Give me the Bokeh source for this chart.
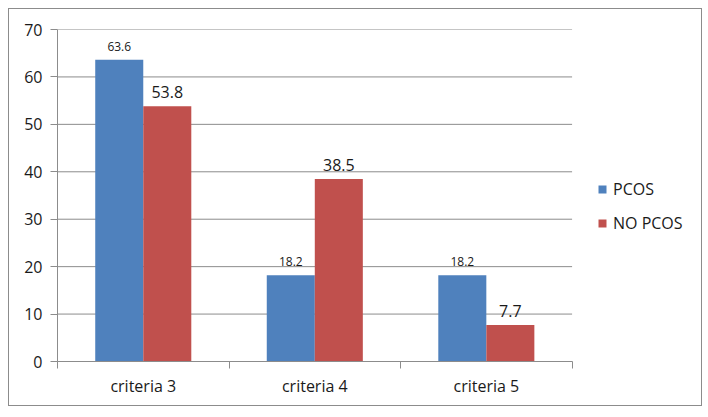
from bokeh.plotting import figure
from bokeh.models import ColumnDataSource, FixedTicker, LabelSet, Legend, LegendItem, Range1d
from bokeh.transform import dodge
from bokeh.core.properties import value
from bokeh.embed import file_html
from bokeh.resources import INLINE

categories = ["criteria 3", "criteria 4", "criteria 5"]
pcos = [63.6, 18.2, 18.2]
no_pcos = [53.8, 38.5, 7.7]
series_names = ["PCOS", "NO PCOS"]
y_ticks = [0, 10, 20, 30, 40, 50, 60, 70]

BLUE = "#4F81BD"
RED = "#C0504D"
GRID = "#8c8c8c"
TXT = "#1a1a1a"
FONT = "Open Sans"

n = len(categories)
# layout: the category area is 513px wide inside a 644px-wide frame (room for the legend)
CAT_W, FRAME_W = 513, 644
x_end = n * FRAME_W / CAT_W

xs = [i + 0.5 for i in range(n)]
src = ColumnDataSource(dict(
    x=xs, pcos=pcos, no_pcos=no_pcos,
    pcos_lbl=[f"{v:.1f}" for v in pcos],
    no_lbl=[f"{v:.1f}" for v in no_pcos],
))

p = figure(width=694, height=398, output_backend="svg", toolbar_location=None,
           x_range=Range1d(0, x_end), y_range=Range1d(0, y_ticks[-1]),
           min_border_left=48, min_border_right=0, min_border_top=20, min_border_bottom=46,
           styles={"border": "1px solid #8c8c8c", "box-sizing": "border-box",
                   "margin-left": "8px", "margin-top": "8px"})
p.outline_line_color = None
p.background_fill_color = "white"
p.border_fill_color = "white"

# horizontal gridlines limited to the category area
p.segment(x0=[0] * len(y_ticks), x1=[n] * len(y_ticks), y0=y_ticks, y1=y_ticks,
          line_color=GRID, line_width=1)

bw = 0.28
r1 = p.vbar(x=dodge("x", -bw / 2, range=p.x_range), top="pcos", width=bw, source=src,
            fill_color=BLUE, line_color=None)
r2 = p.vbar(x=dodge("x", bw / 2, range=p.x_range), top="no_pcos", width=bw, source=src,
            fill_color=RED, line_color=None)

l1 = LabelSet(x=dodge("x", -bw / 2, range=p.x_range), y="pcos", text="pcos_lbl", source=src,
              text_align="center", text_baseline="bottom", y_offset=9,
              text_font=value(FONT), text_font_size="12px", text_color=TXT)
l2 = LabelSet(x=dodge("x", bw / 2, range=p.x_range), y="no_pcos", text="no_lbl", source=src,
              text_align="center", text_baseline="bottom", y_offset=8,
              text_font=value(FONT), text_font_size="16px", text_color=TXT)
p.add_layout(l1)
p.add_layout(l2)

# y axis
p.yaxis.ticker = FixedTicker(ticks=y_ticks)
p.yaxis.axis_line_color = GRID
p.yaxis.major_tick_line_color = GRID
p.yaxis.major_tick_out = 7
p.yaxis.major_tick_in = 0
p.yaxis.minor_tick_line_color = None
p.yaxis.major_label_text_font = FONT
p.yaxis.major_label_text_font_size = "16px"
p.yaxis.major_label_text_color = TXT
p.yaxis.major_label_standoff = 8

# x axis: labels at category centres, ticks at category boundaries
p.xaxis.ticker = FixedTicker(ticks=xs, minor_ticks=list(range(n + 1)))
p.xaxis.major_label_overrides = {x: c for x, c in zip(xs, categories)}
p.xaxis.bounds = (0, n)
p.xaxis.axis_line_color = GRID
p.xaxis.major_tick_line_color = None
p.xaxis.major_tick_out = 0
p.xaxis.major_tick_in = 0
p.xaxis.minor_tick_line_color = GRID
p.xaxis.minor_tick_out = 7
p.xaxis.minor_tick_in = 0
p.xaxis.major_label_text_font = FONT
p.xaxis.major_label_text_font_size = "16px"
p.xaxis.major_label_text_color = TXT
p.xaxis.major_label_standoff = 6

p.xgrid.grid_line_color = None
p.ygrid.grid_line_color = None

legend = Legend(items=[LegendItem(label=series_names[0], renderers=[r1]),
                       LegendItem(label=series_names[1], renderers=[r2])],
                location=(540, 127), orientation="vertical",
                label_text_font=FONT, label_text_font_size="16px", label_text_color=TXT,
                glyph_width=10, glyph_height=10, label_height=20, spacing=12,
                border_line_color=None, background_fill_alpha=0,
                label_standoff=6, padding=0, margin=0)
p.add_layout(legend, "center")

open("out.html", "w").write(file_html(p, INLINE))
